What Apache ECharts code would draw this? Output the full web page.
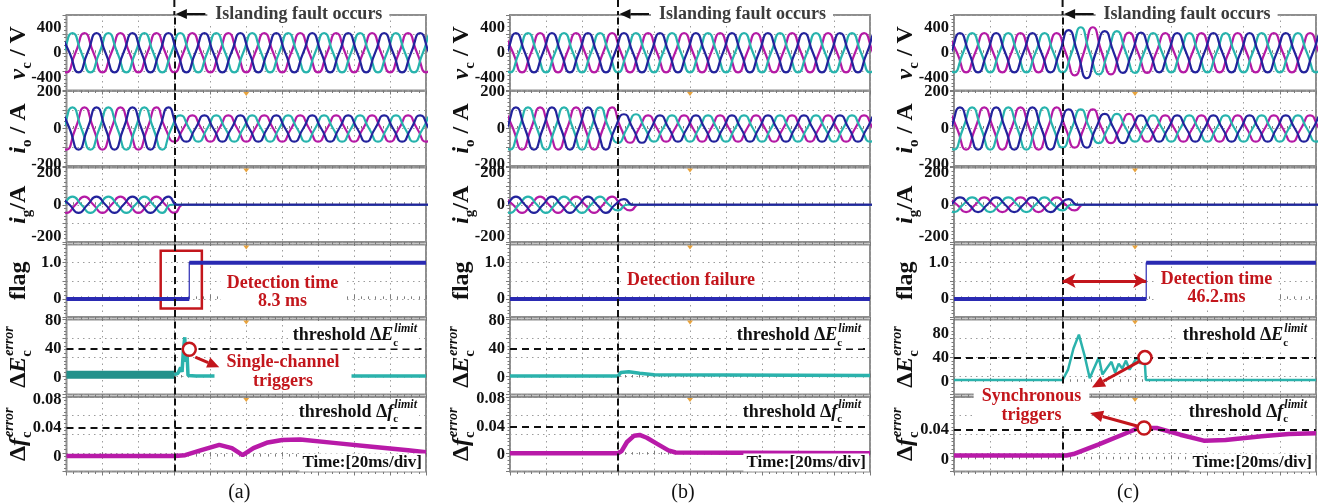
<!DOCTYPE html>
<html>
<head>
<meta charset="utf-8">
<script src="https://cdn.jsdelivr.net/npm/echarts@6/dist/echarts.min.js"></script>
<style>
  html, body { margin: 0; padding: 0; background: #fff; }
  #chart { width: 1327px; height: 504px; }
</style>
</head>
<body>
<div id="chart"></div>
<script>
// ---------- capture data (time in ms, 20 ms/div, 10 div) ----------
const timeSpan = [0, 200];
const faultTime = 60;
const detectTimeA = 68.3;   // 8.3 ms after the fault
const detectTimeC = 106.2;  // 46.2 ms after the fault

// first peak time (ms) of each phase: [cyan, magenta, blue]
const phasePeaksA = [3.3, 10.0, 16.7];
const phasePeaksB = [10.0, 16.7, 3.3];
const phasePeaksC = [10.0, 16.7, 3.3];

// peak amplitude per phase, as steps: [from time ms, peak value]
const vcAmpA = [[0, 311]];
const vcAmpB = [[0, 311]];
const vcAmpC = [[0, 311], [62, 360], [68, 405], [80, 345], [92, 320], [110, 311]];
const ioAmpA = [[0, 115], [60, 72]];
const ioAmpB = [[0, 115], [60, 78], [75, 72]];
const ioAmpC = [[0, 115], [60, 105], [78, 80], [100, 72]];
const igAmpA = [[0, 50], [61, 0]];
const igAmpB = [[0, 50], [60, 35], [68, 0]];
const igAmpC = [[0, 45], [60, 35], [70, 0]];

// islanding flag
const flagA = [[0, 0], [detectTimeA, 0], [detectTimeA, 1], [200, 1]];
const flagB = [[0, 0], [200, 0]];
const flagC = [[0, 0], [detectTimeC, 0], [detectTimeC, 1], [200, 1]];

// ΔE_c^error
const dEApre = [[0, 4], [60, 4]];
const dEApost = [[60, 4], [62, 6], [63.5, 14], [64.3, 8], [65, 38], [65.8, 57], [66.3, 22],
                 [66.8, 48], [67.6, 3], [72, 2], [200, 2]];
const dEB = [[0, 2], [60, 2], [61.5, 7], [66, 8], [72, 6], [80, 4], [200, 3]];
const dEC = [[0, 3], [60, 3], [63, 20], [66, 55], [69, 78], [72, 45], [75, 6], [77, 20], [80, 40],
             [82, 12], [85, 25], [87, 33], [89, 15], [91, 30], [93, 22], [95, 35], [97, 20],
             [99, 30], [101, 40], [103, 30], [105.3, 38], [106, 3], [200, 3]];

// Δf_c^error
const dfA = [[0, 0.001], [60, 0.001], [66, 0.002], [75, 0.009], [85, 0.0165], [92, 0.012],
             [98, 0.002], [104, 0.012], [112, 0.02], [120, 0.0235], [130, 0.024], [150, 0.019],
             [170, 0.014], [190, 0.009], [200, 0.006]];
const dfB = [[0, 0.002], [60, 0.002], [62, 0.005], [65, 0.018], [69, 0.027], [72, 0.028],
             [76, 0.024], [82, 0.015], [88, 0.006], [92, 0.003], [200, 0.002]];
const dfC = [[0, 0.005], [62, 0.005], [66, 0.007], [80, 0.02], [95, 0.035], [102, 0.042],
             [112, 0.042], [125, 0.033], [138, 0.025], [150, 0.026], [170, 0.031], [185, 0.034],
             [200, 0.035]];

// thresholds
const dELimit = 40;
const dfLimitA = 0.037, dfLimitB = 0.038, dfLimitC = 0.042;

// axis ranges and tick labels
const vcRange = [-600, 600], vcTicks = [-400, 0, 400];
const ioRange = [-205, 205], ioTicks = [-200, 0, 200];
const igRange = [-230, 230], igTicks = [-200, 0, 200];
const flagRange = [-0.5, 1.5], flagTicks = [0, 1];
const dERangeAB = [-24, 82], dERangeC = [-21, 103], dETicks = [0, 40, 80];
const dfRangeA = [-0.021, 0.084], dfRangeB = [-0.024, 0.082], dfRangeC = [-0.0164, 0.0836];
const dfTicksAB = [0, 0.04, 0.08], dfTicksC = [0, 0.04];

// scope cursor markers at the trigger position
const cursorTime = 100;

// ---------- layout & style ----------
const SERIF = '"Liberation Serif", "Times New Roman", serif';
const C_MAG = '#b41aa5', C_CYAN = '#27b3ad', C_BLUE = '#23239c';
const C_FLAG = '#2a2ab2', C_DF = '#b81aa8', C_DE = '#2bb2ac', C_DE_DARK = '#23918b';
const RED = '#c3161c';
const GRID_LINE = { color: '#9c9c9c', type: [1.5, 4], width: 1 };
const rowTop = [15, 91, 167.5, 244.5, 319.5, 397];
const rowHeight = [75.5, 75, 74.5, 72.5, 75, 74.5];

const panels = [
  { left: 66.5, width: 359.5, tag: '(a)', peaks: phasePeaksA, vc: vcAmpA, io: ioAmpA, ig: igAmpA,
    flag: flagA, dE: [dEApre, dEApost], df: dfA, dfLimit: dfLimitA,
    ranges: [vcRange, ioRange, igRange, flagRange, dERangeAB, dfRangeA],
    ticks: [vcTicks, ioTicks, igTicks, flagTicks, dETicks, dfTicksAB] },
  { left: 510, width: 360, tag: '(b)', peaks: phasePeaksB, vc: vcAmpB, io: ioAmpB, ig: igAmpB,
    flag: flagB, dE: [dEB], df: dfB, dfLimit: dfLimitB,
    ranges: [vcRange, ioRange, igRange, flagRange, dERangeAB, dfRangeB],
    ticks: [vcTicks, ioTicks, igTicks, flagTicks, dETicks, dfTicksAB] },
  { left: 954, width: 362, tag: '(c)', peaks: phasePeaksC, vc: vcAmpC, io: ioAmpC, ig: igAmpC,
    flag: flagC, dE: [dEC], df: dfC, dfLimit: dfLimitC,
    ranges: [vcRange, ioRange, igRange, flagRange, dERangeC, dfRangeC],
    ticks: [vcTicks, ioTicks, igTicks, flagTicks, dETicks, dfTicksC] }
];

function stepValue(steps, t) {
  let v = steps[0][1];
  for (const s of steps) if (t >= s[0]) v = s[1];
  return v;
}
// peaks and zero crossings of one 50 Hz phase; the line is smoothed by the library
function phaseTrace(firstPeak, steps) {
  const pts = [], pattern = [1, 0, -1, 0];
  for (let k = -4; firstPeak + k * 5 <= timeSpan[1] + 15; k++) {
    const t = firstPeak + k * 5;
    pts.push([+t.toFixed(2), pattern[((k % 4) + 4) % 4] * stepValue(steps, t)]);
  }
  return pts;
}
// break a step trace at its vertical edges
function flatParts(data) {
  const out = [];
  data.forEach((p, i) => {
    if (i > 0 && p[0] === data[i - 1][0]) out.push([p[0], '-']);
    out.push(p);
  });
  return out;
}

const grid = [], xAxis = [], yAxis = [], series = [];
const tickStyle = { color: '#7a7a7a', width: 1 };

panels.forEach((P, p) => {
  for (let r = 0; r < 6; r++) {
    const g = p * 6 + r;
    grid.push({ left: P.left, top: rowTop[r], width: P.width, height: rowHeight[r],
      show: true, borderColor: '#8e8e8e', borderWidth: 2 });
    const xBase = { gridIndex: g, type: 'value', min: timeSpan[0], max: timeSpan[1], interval: 20,
      axisLine: { show: false }, axisLabel: { show: false },
      axisTick: { show: true, inside: true, length: 4, lineStyle: tickStyle },
      minorTick: { show: true, splitNumber: 5, length: 2.5, lineStyle: tickStyle } };
    xAxis.push(Object.assign({}, xBase, { position: 'bottom', splitLine: { show: true, lineStyle: GRID_LINE } }));
    xAxis.push(Object.assign({}, xBase, { position: 'top', splitLine: { show: false } }));
    const R = P.ranges[r];
    yAxis.push({ gridIndex: g, type: 'value', min: R[0], max: R[1], position: 'left',
      axisLine: { show: false }, axisTick: { show: false }, splitLine: { show: false },
      axisLabel: { show: true, customValues: P.ticks[r], margin: 5,
        fontFamily: SERIF, fontWeight: 'bold', fontSize: 16.5, color: '#111',
        formatter: v => (r === 3 && v === 1) ? '1.0' : String(v) } });
    yAxis.push({ gridIndex: g, type: 'value', min: 0, max: 4, interval: 1, position: 'right',
      axisLine: { show: false }, axisLabel: { show: false },
      axisTick: { show: true, inside: true, length: 4, lineStyle: tickStyle },
      minorTick: { show: true, splitNumber: 5, length: 2.5, lineStyle: tickStyle },
      splitLine: { show: true, lineStyle: GRID_LINE } });

    const faultMark = { xAxis: faultTime, lineStyle: { color: '#111', type: [7, 4], width: 2 } };
    const base = { type: 'line', xAxisIndex: 2 * g, yAxisIndex: 2 * g, showSymbol: false,
      symbol: 'none', animation: false, silent: true };
    const markLineOf = extra => ({ silent: true, symbol: 'none', label: { show: false },
      data: [faultMark].concat(extra || []) });

    if (r < 3) {
      const amps = [P.vc, P.io, P.ig][r];
      const colors = [C_CYAN, C_MAG, C_BLUE];
      [1, 0, 2].forEach((ph, i) => {
        series.push(Object.assign({}, base, {
          data: phaseTrace(P.peaks[ph], amps), smooth: 0.6,
          lineStyle: { color: colors[ph], width: 2.2 }, z: 3 + i,
          markLine: i === 0 ? markLineOf() : undefined }));
      });
    } else if (r === 3) {
      const thick = Object.assign({}, base, { data: flatParts(P.flag), connectNulls: false,
        lineStyle: { color: C_FLAG, width: 4 }, z: 4, markLine: markLineOf() });
      const edge = Object.assign({}, base, { data: P.flag, lineStyle: { color: C_FLAG, width: 1.2 }, z: 4 });
      if (p === 0) {
        edge.markArea = { silent: true, itemStyle: { color: 'rgba(0,0,0,0)', borderColor: RED, borderWidth: 2.5 },
          data: [[{ coord: [52.4, 1.33] }, { coord: [75.3, -0.265] }]] };
      }
      if (p === 2) {
        edge.markLine = { silent: true, symbol: ['arrow', 'arrow'], symbolSize: [11, 13], label: { show: false },
          lineStyle: { color: RED, width: 3, type: 'solid' },
          data: [[{ coord: [faultTime, 0.5] }, { coord: [detectTimeC, 0.5] }]] };
      }
      series.push(thick, edge);
    } else if (r === 4) {
      const lim = { yAxis: dELimit, lineStyle: { color: '#111', type: [7, 5], width: 2 } };
      P.dE.forEach((d, i) => {
        const dark = p === 0 && i === 0;
        series.push(Object.assign({}, base, { data: d,
          lineStyle: { color: dark ? C_DE_DARK : C_DE, width: dark ? 8 : (p === 2 ? 2.5 : 3.5) },
          z: 3 + i, markLine: i === 0 ? markLineOf([lim]) : undefined }));
      });
    } else {
      const lim = { yAxis: P.dfLimit, lineStyle: { color: '#111', type: [7, 5], width: 2 } };
      series.push(Object.assign({}, base, { data: P.df,
        lineStyle: { color: C_DF, width: 4.5 }, z: 3, markLine: markLineOf([lim]) }));
    }
  }
});

const chart = echarts.init(document.getElementById('chart'));
chart.setOption({ animation: false, grid, xAxis, yAxis, series });

// ---------- titles, annotations ----------
const px = (g, pt) => chart.convertToPixel({ xAxisIndex: 2 * g, yAxisIndex: 2 * g }, pt);
const tok = (size, extra) => Object.assign({ fontFamily: SERIF, fontWeight: 'bold', fontSize: size,
  fill: '#111', align: 'left' }, extra || {});
const titleRich = {
  i: tok(24, { fontStyle: 'italic', lineHeight: 32 }),
  n: tok(24, { lineHeight: 32 }),
  s: tok(15, { lineHeight: 15, verticalAlign: 'bottom' }),
  t: tok(15, { lineHeight: 15, verticalAlign: 'bottom', width: 1 }),
  u: tok(14, { fontStyle: 'italic', lineHeight: 16, verticalAlign: 'top' })
};
const titles = ['{i|v}{s|c}{n| / V}', '{i|i}{s|o}{n| / A}', '{i|i}{s|g}{n|/A}', '{n|flag}',
                '{n|Δ}{i|E}{t|c}{u|error}', '{n|Δ}{i|f}{t|c}{u|error}'];
const limRich = {
  n: tok(18, { lineHeight: 26 }),
  i: tok(18, { fontStyle: 'italic', lineHeight: 26 }),
  t: tok(11, { lineHeight: 12, verticalAlign: 'bottom', width: 1 }),
  u: tok(12, { fontStyle: 'italic', lineHeight: 12, verticalAlign: 'top' })
};

function arrow(x1, y1, x2, y2, color, w, head) {
  const a = Math.atan2(y2 - y1, x2 - x1);
  const bx = x2 - head * Math.cos(a), by = y2 - head * Math.sin(a);
  const nx = -Math.sin(a) * head * 0.45, ny = Math.cos(a) * head * 0.45;
  return [
    { type: 'line', z: 120, shape: { x1, y1, x2: bx, y2: by }, style: { stroke: color, lineWidth: w } },
    { type: 'polygon', z: 120, shape: { points: [[x2, y2], [bx + nx, by + ny], [bx - nx, by - ny]] },
      style: { fill: color } }
  ];
}
const circle = (c) => ({ type: 'circle', z: 121, shape: { cx: c[0], cy: c[1], r: 6.5 },
  style: { fill: '#fff', stroke: RED, lineWidth: 2.5 } });
const label = (x, y, text, extra) => ({ type: 'text', z: 110, x, y,
  style: Object.assign({ text, fontFamily: SERIF, fontWeight: 'bold', fontSize: 18, fill: RED,
    align: 'center', verticalAlign: 'middle', lineHeight: 18.5, backgroundColor: '#fff' }, extra || {}) });

const graphic = [];
panels.forEach((P, p) => {
  const g0 = p * 6;
  const right = P.left + P.width;
  for (let r = 0; r < 6; r++) {
    graphic.push({ type: 'text', z: 110, x: P.left - 48, y: rowTop[r] + rowHeight[r] / 2,
      rotation: Math.PI / 2,
      style: { text: titles[r], rich: titleRich, align: 'center', verticalAlign: 'middle' } });
    // trigger cursor at the top of the lower traces
    if (r > 0) {
      const c = px(g0 + r, [cursorTime, 0]);
      const yTop = rowTop[r] + 1;
      graphic.push({ type: 'polygon', z: 100,
        shape: { points: [[c[0] - 3, yTop], [c[0] + 3, yTop], [c[0], yTop + 4]] },
        style: { fill: '#e8a33d' } });
    }
  }
  // fault marker across the top
  const xf = px(g0, [faultTime, 0])[0];
  graphic.push({ type: 'line', z: 100, shape: { x1: xf, y1: 0, x2: xf, y2: rowTop[0] },
    style: { stroke: '#111', lineWidth: 2, lineDash: [7, 4] } });
  graphic.push({ type: 'text', z: 105, x: xf + 33, y: 14,
    style: { text: 'Islanding fault occurs', fontFamily: SERIF, fontWeight: 'bold', fontSize: 18,
      fill: '#3c3c3c', align: 'left', verticalAlign: 'middle', backgroundColor: '#fff', padding: [1, 7, 1, 8] } });
  graphic.push(...arrow(xf + 31, 14, xf + 1.5, 14, '#111', 2, 11));

  // thresholds and time base
  graphic.push({ type: 'text', z: 110, x: right - 7, y: rowTop[4] + 16,
    style: { text: '{n|threshold Δ}{i|E}{t|c}{u|limit}', rich: limRich, align: 'right',
      verticalAlign: 'middle', backgroundColor: '#fff', padding: [0, 2, 0, 4] } });
  graphic.push({ type: 'text', z: 110, x: right - 7, y: rowTop[5] + 15,
    style: { text: '{n|threshold Δ}{i|f}{t|c}{u|limit}', rich: limRich, align: 'right',
      verticalAlign: 'middle', backgroundColor: '#fff', padding: [0, 2, 0, 4] } });
  graphic.push({ type: 'text', z: 110, x: right - 1, y: rowTop[5] + rowHeight[5] - 9,
    style: { text: 'Time:[20ms/div]', fontFamily: SERIF, fontWeight: 'bold', fontSize: 17, fill: '#111',
      align: 'right', verticalAlign: 'middle', backgroundColor: '#fff', padding: [1, 3, 0, 3] } });

  graphic.push({ type: 'text', z: 110, x: P.left + P.width / 2 - 7, y: 493,
    style: { text: P.tag, fontFamily: SERIF, fontSize: 20, fill: '#111', align: 'center', verticalAlign: 'middle' } });
});

// (a) detection within 8.3 ms, single-channel trigger
graphic.push(label(282.5, 292.5, 'Detection time\n8.3 ms', { padding: [2, 6] }));
graphic.push(label(283, 372, 'Single-channel\ntriggers', { padding: [1, 12] }));
const cA = px(4, [detectTimeA, dELimit]);
graphic.push(...arrow(cA[0] + 6, cA[1] + 8, cA[0] + 30, cA[1] + 18, RED, 3, 12), circle(cA));

// (b) no detection
graphic.push(label(691, 280, 'Detection failure', { padding: [2, 6] }));

// (c) detection after 46.2 ms, synchronous triggers
graphic.push(label(1216.5, 288.5, 'Detection time\n46.2.ms', { padding: [2, 6] }));
graphic.push(label(1031.5, 406, 'Synchronous\ntriggers', { padding: [2, 8] }));
const cE = px(16, [105.5, dELimit]);
const cF = px(17, [105, dfLimitC]);
graphic.push(...arrow(cE[0] - 6, cE[1] + 4, cE[0] - 53, cE[1] + 30, RED, 3, 13), circle(cE));
graphic.push(...arrow(cF[0] - 7, cF[1] - 2, cF[0] - 54, cF[1] - 15, RED, 3, 13), circle(cF));

chart.setOption({ graphic });
</script>
</body>
</html>
